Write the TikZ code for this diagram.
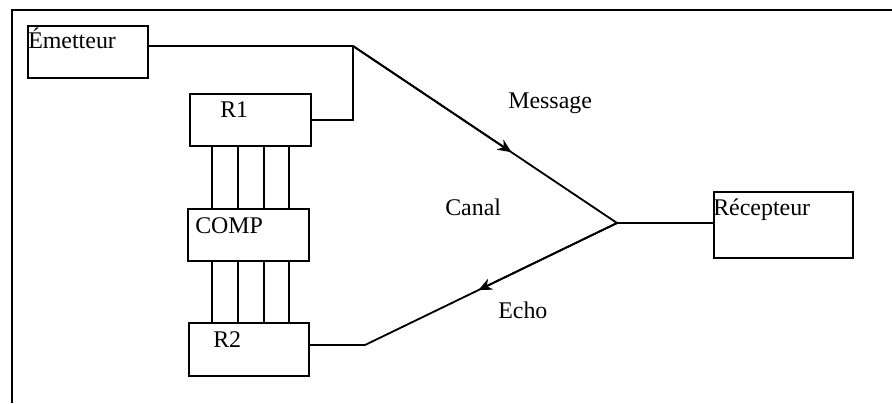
\documentclass[tikz,border=0pt]{standalone}
\usepackage{fontspec}
\setmainfont{Liberation Serif}
\usetikzlibrary{arrows.meta, positioning, calc}

\begin{document}
\begin{tikzpicture}[x=0.025cm, y=-0.025cm,
		bloc/.style={draw, line width=1.2pt, rectangle, anchor=north west, inner sep=0pt},
		txt/.style={anchor=base west, inner sep=0pt, font=\fontsize{17}{19}\selectfont},
		lien/.style={line width=1.3pt},
		bus/.style={line width=1pt},
		arr/.style={-{Stealth[length=3.4mm, width=3mm]}, line width=1.3pt}
		]
		\useasboundingbox (0,0) rectangle (892,403);
		\draw[line width=1.3pt] (12,403) -- (12,10) -- (892,10);
		
		\node[bloc, minimum width=3cm, minimum height=1.3cm] (emetteur) at (27,25) {};
		\node[bloc, minimum width=3.025cm, minimum height=1.3cm] (r1) at (189,93) {};
		\node[bloc, minimum width=3.025cm, minimum height=1.3cm] (comp) at (187,208) {};
		\node[bloc, minimum width=3cm, minimum height=1.325cm] (r2) at (188,322) {};
		\node[bloc, minimum width=3.475cm, minimum height=1.65cm] (recepteur) at (713,191) {};
		
		\node[txt] (t-emetteur) at (28,48) {Émetteur};
		\node[txt] (t-r1) at (220,117) {R1};
		\node[txt] (t-comp) at (195,233) {COMP};
		\node[txt] (t-r2) at (213,347) {R2};
		\node[txt] (t-recepteur) at (713,215) {Récepteur};
		\node[txt] (message) at (508,108) {Message};
		\node[txt] (canal) at (445,215) {Canal};
		\node[txt] (echo) at (498,318) {Echo};
		
		\coordinate (j) at (353,46);
		\coordinate (v) at (617,223);
		\coordinate (e) at (365,345);
		
		\draw[lien] (emetteur.east |- j) -- (j);
		\draw[lien] (r1.east) -| (j);
		\draw[lien] (j) -- (v);
		\draw[arr] (j) -- ($(j)!0.6!(v)$);
		\draw[lien] (v) -- (recepteur.west |- v);
		\draw[lien] (v) -- (e) -- (r2.east |- e);
		\draw[arr] (v) -- ($(v)!0.55!(e)$);
		
		\foreach \x in {212,238,264,289} {
			\draw[bus] (\x,0 |- r1.south) -- (\x,0 |- comp.north);
			\draw[bus] (\x,0 |- comp.south) -- (\x,0 |- r2.north);
		}
	\end{tikzpicture}
\end{document}
